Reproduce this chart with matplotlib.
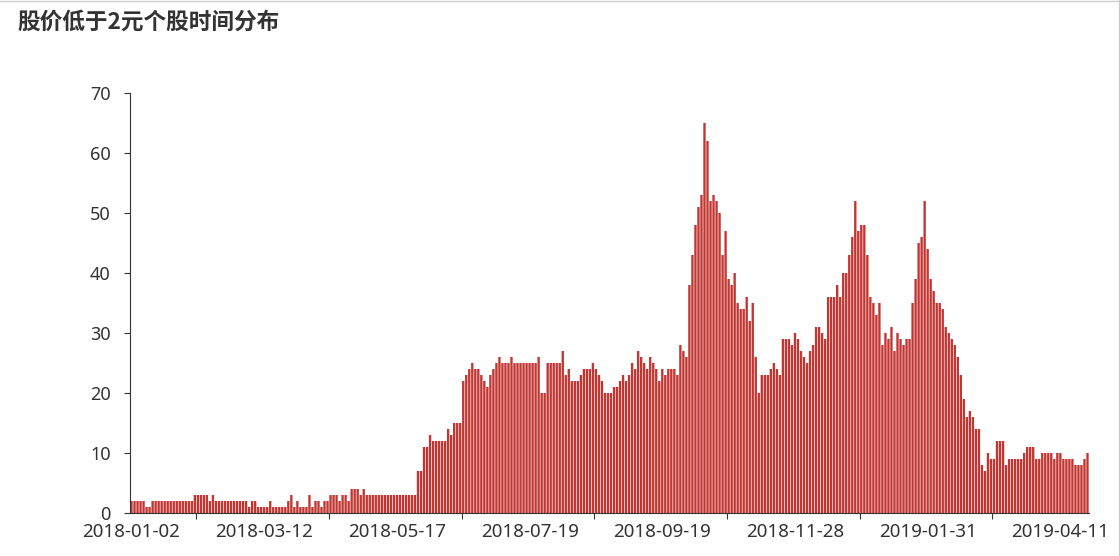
import numpy as np
import matplotlib
matplotlib.use('Agg')
import matplotlib.pyplot as plt
from matplotlib.lines import Line2D

plt.rcParams['font.family'] = ['Noto Sans', 'Noto Sans CJK SC', 'DejaVu Sans']

title = '股价低于2元个股时间分布'
# one label every 44 trading days, starting at the first day
tick_labels = ['2018-01-02', '2018-03-12', '2018-05-17', '2018-07-19',
               '2018-09-19', '2018-11-28', '2019-01-31', '2019-04-11']
label_step = 44

# number of stocks priced below 2 yuan, one value per trading day
counts = [
    2, 2, 2, 2, 2, 1, 1, 2, 2, 2,
    2, 2, 2, 2, 2, 2, 2, 2, 2, 2,
    2, 3, 3, 3, 3, 3, 2, 3, 2, 2,
    2, 2, 2, 2, 2, 2, 2, 2, 2, 1,
    2, 2, 1, 1, 1, 1, 2, 1, 1, 1,
    1, 1, 2, 3, 1, 2, 1, 1, 1, 3,
    1, 2, 2, 1, 2, 2, 3, 3, 3, 2,
    3, 3, 2, 4, 4, 4, 3, 4, 3, 3,
    3, 3, 3, 3, 3, 3, 3, 3, 3, 3,
    3, 3, 3, 3, 3, 7, 7, 11, 11, 13,
    12, 12, 12, 12, 12, 14, 13, 15, 15, 15,
    22, 23, 24, 25, 24, 24, 23, 22, 21, 23,
    24, 25, 26, 25, 25, 25, 26, 25, 25, 25,
    25, 25, 25, 25, 25, 26, 20, 20, 25, 25,
    25, 25, 25, 27, 23, 24, 22, 22, 22, 23,
    24, 24, 24, 25, 24, 23, 22, 20, 20, 20,
    21, 21, 22, 23, 22, 23, 25, 24, 27, 26,
    25, 24, 26, 25, 24, 22, 24, 23, 24, 24,
    24, 23, 28, 27, 26, 38, 43, 48, 51, 53,
    65, 62, 52, 53, 52, 50, 43, 47, 39, 38,
    40, 35, 34, 34, 36, 32, 35, 26, 20, 23,
    23, 23, 24, 25, 24, 23, 29, 29, 29, 28,
    30, 29, 27, 26, 25, 27, 28, 31, 31, 30,
    29, 36, 36, 36, 38, 36, 40, 40, 43, 46,
    52, 47, 48, 48, 43, 36, 35, 33, 35, 28,
    30, 29, 31, 27, 30, 29, 28, 29, 29, 35,
    39, 45, 46, 52, 44, 39, 37, 35, 35, 34,
    31, 30, 29, 28, 26, 23, 19, 16, 17, 16,
    14, 14, 8, 7, 10, 9, 9, 12, 12, 12,
    8, 9, 9, 9, 9, 9, 10, 11, 11, 11,
    9, 9, 10, 10, 10, 10, 9, 10, 10, 9,
    9, 9, 9, 8, 8, 8, 9, 10,
]

n = len(counts)
x = np.arange(n)

W, H = 1120, 556
fig = plt.figure(figsize=(W / 100, H / 100), dpi=100)
ax = fig.add_axes([130 / W, 43 / H, 959 / W, 420 / H])

ax.bar(x, counts, width=0.78, color='#c23531', linewidth=0, snap=False)

ax.set_xlim(-0.5, n - 0.5)
ax.set_ylim(0, 70)
ax.set_yticks(range(0, 71, 10))

label_pos = np.arange(len(tick_labels)) * label_step
ax.set_xticks(label_pos)
ax.set_xticklabels(tick_labels)
ax.set_xticks(label_pos[:-1] + label_step / 2 - 0.5, minor=True)

ax.tick_params(axis='x', which='major', length=0, pad=7, labelsize=13.5, colors='#333333')
ax.tick_params(axis='x', which='minor', length=4, width=0.8, color='#333333')
ax.tick_params(axis='y', length=4, width=0.8, pad=10, labelsize=13,
               colors='#333333')

for side in ['top', 'right']:
    ax.spines[side].set_visible(False)
for side in ['left', 'bottom']:
    ax.spines[side].set_color('#333333')
    ax.spines[side].set_linewidth(0.8)

fig.text(17 / W, 1 - 22 / H, title, fontsize=16.3, fontweight='bold',
         va='center', ha='left', color='#333333',
         family=['Noto Sans CJK SC', 'DejaVu Sans'])

# thin frame on the top and right edges
fig.add_artist(Line2D([0, 1], [0.999, 0.999], transform=fig.transFigure,
                      color='#cccccc', lw=1))
fig.add_artist(Line2D([0.9995, 0.9995], [0, 1], transform=fig.transFigure,
                      color='#cccccc', lw=1))

fig.savefig('out.png', dpi=100)
